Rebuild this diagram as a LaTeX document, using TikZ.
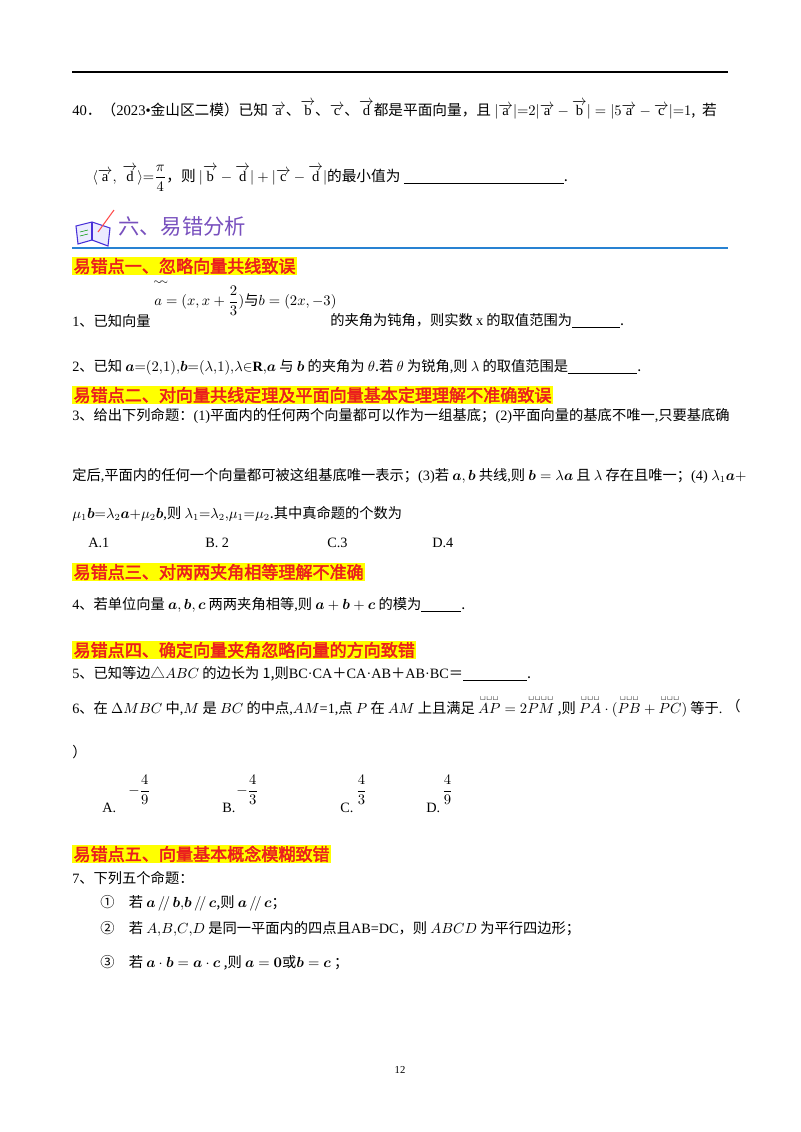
\documentclass[tikz,border=0pt]{standalone}
\usepackage{amsmath,bm}
\usepackage{fontspec}
\setmainfont{Liberation Serif}
\newfontfamily\cjkfont{Noto Sans CJK SC}
\newfontfamily\cjkbfont[FakeBold=2.5]{Noto Sans CJK SC}
\newif\ifcjkbold
\def\cjk{\ifcjkbold\cjkbfont\else\cjkfont\fi}
\newXeTeXintercharclass\cjkclass
\def\setcls#1#2{\count255=#1\relax\loop\XeTeXcharclass\count255=\cjkclass\ifnum\count255<#2\advance\count255 1\repeat}
\setcls{"4E00}{"9FFF}
\setcls{"3000}{"303F}
\setcls{"FF00}{"FFEF}
\setcls{"2460}{"2473}
\setcls{"25B3}{"25B3}
\XeTeXinterchartokenstate=1
\XeTeXinterchartoks 0 \cjkclass = {\cjk}
\XeTeXinterchartoks 4095 \cjkclass = {\cjk}
\XeTeXinterchartoks \cjkclass 0 = {\rmfamily}
\definecolor{hl}{RGB}{255,255,0}
\definecolor{hred}{RGB}{235,30,30}
\definecolor{ttl}{RGB}{120,80,190}
\definecolor{rule}{RGB}{40,130,210}
\tikzset{
  txt/.style={anchor=west,inner sep=0pt,font=\fontsize{10.7}{13}\selectfont},
  small/.style={anchor=west,inner sep=0pt,font=\fontsize{11}{12}\selectfont},
  head/.style={anchor=west,inner sep=1pt,fill=hl,text=hred,font=\fontsize{12.8}{14}\selectfont\cjkboldtrue\cjk},
}
\begin{document}
\begin{tikzpicture}[x=0.75pt,y=-0.75pt]
\useasboundingbox (0,0) rectangle (800,1132);
\fill[white] (0,0) rectangle (800,1132);
\draw[line width=1.5pt] (72,72) -- (728,72);
% 40
\node[small] (q40) at (72,110) {40．（2023•金山区二模）已知 $\overrightarrow{\mathrm a}$、$\overrightarrow{\mathrm b}$、$\overrightarrow{\mathrm c}$、$\overrightarrow{\mathrm d}$都是平面向量，且 $\lvert\overrightarrow{\mathrm a}\rvert{=}2\lvert\overrightarrow{\mathrm a}-\overrightarrow{\mathrm b}\rvert=\lvert5\overrightarrow{\mathrm a}-\overrightarrow{\mathrm c}\rvert{=}1$,\ \ 若};
\node[small] (q40b) at (92,178) {$\langle\overrightarrow{\mathrm a},\ \overrightarrow{\mathrm d}\rangle{=}\dfrac{\pi}{4}$，则 $\lvert\overrightarrow{\mathrm b}-\overrightarrow{\mathrm d}\rvert+\lvert\overrightarrow{\mathrm c}-\overrightarrow{\mathrm d}\rvert$的最小值为 \underline{\hspace{120pt}}.};
% title
\node[anchor=west,inner sep=0pt,text=ttl,font=\fontsize{16}{18}\selectfont\cjk] (ttl) at (118,226) {六、易错分析};
\draw[ttl!60!blue,thick,fill=blue!8] (76,226) -- (92,222) -- (110,228) -- (108,246) -- (92,240) -- (78,244) -- cycle;
\draw[ttl!60!blue,thick] (92,222) -- (92,240);
\draw[red!70,thick] (98,232) -- (114,210);
\draw[green!60!black] (80,232)--(88,230) (80,236)--(88,234);
\draw[rule,line width=1pt] (72,248) -- (728,248);
% 1
\node[head] (h1) at (72,266) {易错点一、忽略向量共线致误};
\node[txt] (q1a) at (72,321) {1、已知向量};
\node[anchor=west,inner sep=0pt,font=\fontsize{7}{8}\selectfont] (tl) at (153,283) {$\sim\!\sim$};
\node[txt] (q1m) at (154,301) {$a=(x,x+\dfrac{2}{3})$与$b=(2x,-3)$};
\node[txt] (q1b) at (330,321) {的夹角为钝角，则实数 {\rmfamily x} 的取值范围为\underline{\hspace{36pt}}.};
\node[txt] (q2) at (72,367) {2、已知 $\bm a{=}(2{,}1){,}\bm b{=}(\lambda{,}1){,}\lambda{\in}\mathbf R{,}\bm a$ 与 $\bm b$ 的夹角为 $\theta$.若 $\theta$ 为锐角,则 $\lambda$ 的取值范围是\underline{\hspace{52pt}}.};
% 2
\node[head] (h2) at (72,395) {易错点二、对向量共线定理及平面向量基本定理理解不准确致误};
\node[txt] (q3a) at (72,416) {3、给出下列命题：(1)平面内的任何两个向量都可以作为一组基底；(2)平面向量的基底不唯一,只要基底确};
\node[txt] (q3b) at (72,476) {定后,平面内的任何一个向量都可被这组基底唯一表示；(3)若 $\bm{a},\bm{b}$ 共线,则 $\bm b=\lambda\bm a$ 且 $\lambda$ 存在且唯一；(4) $\lambda_1\bm a+$};
\node[txt] (q3c) at (72,514) {$\mu_1\bm b{=}\lambda_2\bm a{+}\mu_2\bm b$,则 $\lambda_1{=}\lambda_2{,}\mu_1{=}\mu_2$.其中真命题的个数为};
\node[txt] (oA) at (88,543) {A.1};
\node[txt] (oB) at (205,543) {B. 2};
\node[txt] (oC) at (327,543) {C.3};
\node[txt] (oD) at (432,543) {D.4};
% 3
\node[head] (h3) at (72,572) {易错点三、对两两夹角相等理解不准确};
\node[txt] (q4) at (72,605) {4、若单位向量 $\bm{a},\bm{b},\bm{c}$ 两两夹角相等,则 $\bm a+\bm b+\bm c$ 的模为\underline{\hspace{30pt}}.};
% 4
\node[head] (h4) at (72,650) {易错点四、确定向量夹角忽略向量的方向致错};
\node[txt] (q5) at (72,674) {5、已知等边△$ABC$ 的边长为 1,则BC·CA＋CA·AB＋AB·BC＝\underline{\hspace{48pt}}.};
\node[txt] (q6) at (72,706) {6、在 $\Delta MBC$ 中,$M$ 是 $BC$ 的中点,$AM$=1,点 $P$ 在 $AM$ 上且满足 $\overset{\scriptscriptstyle\sqcup\sqcup\sqcup}{AP}=2\overset{\scriptscriptstyle\sqcup\sqcup\sqcup\sqcup}{PM}$ ,则 $\overset{\scriptscriptstyle\sqcup\sqcup\sqcup}{PA}\cdot(\overset{\scriptscriptstyle\sqcup\sqcup\sqcup}{PB}+\overset{\scriptscriptstyle\sqcup\sqcup\sqcup}{PC})$ 等于.};
\node[txt] (lp) at (726,706) {（};
\node[txt] (rp) at (72,752) {）};
\node[txt] (a6) at (102,808) {A.};
\node[txt] (a6f) at (128,790) {$-\dfrac{4}{9}$};
\node[txt] (b6) at (222,808) {B.};
\node[txt] (b6f) at (236,790) {$-\dfrac{4}{3}$};
\node[txt] (c6) at (340,808) {C.};
\node[txt] (c6f) at (356,790) {$\dfrac{4}{3}$};
\node[txt] (d6) at (426,808) {D.};
\node[txt] (d6f) at (442,790) {$\dfrac{4}{9}$};
% 5
\node[head] (h5) at (72,854) {易错点五、向量基本概念模糊致错};
\node[txt] (q7) at (72,878) {7、下列五个命题：};
\node[txt] (n1) at (100,903) {①\quad 若 $\bm a\,/\!/\,\bm b{,}\bm b\,/\!/\,\bm c$,则 $\bm a\,/\!/\,\bm c$；};
\node[txt] (n2) at (100,929) {②\quad 若 $A{,}B{,}C{,}D$ 是同一平面内的四点且AB=DC，则 $ABCD$ 为平行四边形；};
\node[txt] (n3) at (100,963) {③\quad 若 $\bm a\cdot\bm b=\bm a\cdot\bm c$ ,则 $\bm a=\bm 0$或$\bm b=\bm c$ ；};
\node[anchor=center,inner sep=0pt,font=\fontsize{8}{9}\selectfont] (pg) at (400,1070) {12};
\end{tikzpicture}
\end{document}
